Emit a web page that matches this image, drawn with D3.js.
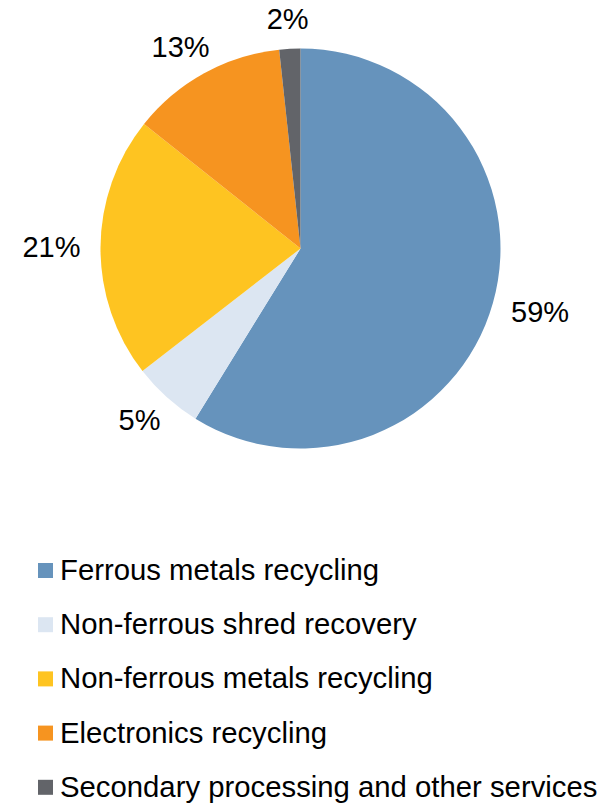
<!DOCTYPE html>
<html>
<head>
<meta charset="utf-8">
<script src="https://cdn.jsdelivr.net/npm/d3@7"></script>
<style>
  body { margin: 0; background: #fff; }
  svg { display: block; font-family: "Liberation Sans", Arial, sans-serif; }
</style>
</head>
<body>
<div id="chart"></div>
<script>
// --- DATA ---
const categories = [
    "Ferrous metals recycling",
    "Non-ferrous shred recovery",
    "Non-ferrous metals recycling",
    "Electronics recycling",
    "Secondary processing and other services"
];
const shares = [58.8, 5.7, 21.2, 12.6, 1.7];
const shareLabels = ["59%", "5%", "21%", "13%", "2%"];
const colors = ["#6693bc", "#dce6f2", "#fec421", "#f69420", "#626469"];

// --- LAYOUT ---
const width = 616, height = 804;
const center = {x: 300.5, y: 248.5};
const radius = 200;
const labelGap = 20;
const labelFont = 29;
const legendFont = 29.3;

const svg = d3.select("#chart").append("svg")
    .attr("width", width)
    .attr("height", height);

const data = categories.map((name, i) => ({name, value: shares[i], label: shareLabels[i], color: colors[i]}));

const pie = d3.pie().value(d => d.value).sort(null);
const arc = d3.arc().innerRadius(0).outerRadius(radius);
const arcs = pie(data);

const pieG = svg.append("g")
    .attr("transform", "translate(" + center.x + "," + center.y + ")");

pieG.selectAll(".slice")
    .data(arcs)
    .join("path")
    .attr("class", "slice")
    .attr("d", arc)
    .attr("fill", d => d.data.color);

// Labels outside the pie, text box kept just off the edge
const capH = labelFont * 0.716;
pieG.selectAll(".pctLabel")
    .data(arcs)
    .join("text")
    .attr("class", "pctLabel")
    .attr("text-anchor", "middle")
    .style("font-size", labelFont + "px")
    .attr("fill", "#000")
    .text(d => d.data.label)
    .each(function(d) {
        const a = (d.startAngle + d.endAngle) / 2;
        const ux = Math.sin(a), uy = -Math.cos(a);
        const w = this.getComputedTextLength();
        const r = radius + labelGap;
        const cx = ux * r + ux * w / 2;
        const cy = uy * r + uy * capH / 2;
        d3.select(this).attr("x", cx).attr("y", cy + capH / 2);
    });

// --- LEGEND ---
const legendX = 38, legendY0 = 580, legendStep = 54.2, box = 15;
const legend = svg.append("g").attr("class", "legend");
const rows = legend.selectAll(".legendRow")
    .data(data)
    .join("g")
    .attr("class", "legendRow")
    .attr("transform", (d, i) => "translate(" + legendX + "," + (legendY0 + i * legendStep) + ")");

rows.append("rect")
    .attr("x", 0)
    .attr("y", -17)
    .attr("width", box)
    .attr("height", box)
    .attr("fill", d => d.color);

rows.append("text")
    .attr("x", 22)
    .attr("y", 0)
    .style("font-size", legendFont + "px")
    .attr("fill", "#000")
    .text(d => d.name);
</script>
</body>
</html>
